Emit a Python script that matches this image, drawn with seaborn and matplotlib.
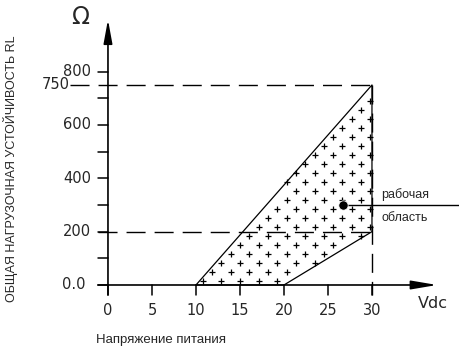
import numpy as np
import pandas as pd
import matplotlib
matplotlib.use("Agg")
import matplotlib.pyplot as plt
import seaborn as sns
from matplotlib.path import Path

# chart values
x_ticks = [0, 5, 10, 15, 20, 25, 30]
y_ticks = [0, 100, 200, 300, 400, 500, 600, 700, 800]
y_labels = {0: "0.0", 200: "200", 400: "400", 600: "600", 800: "800"}
area_v = [10, 30, 30, 20]
area_rl = [0, 750, 200, 0]
rl_max = 750
rl_min = 200
v_max = 30
point_v = 26.7
point_rl = 300

sns.set_style("white")
plt.rcParams["font.family"] = ["DejaVu Sans"]

fig = plt.figure(figsize=(4.59, 3.49), dpi=100)
ax = fig.add_axes([0, 0, 1, 1])
ax.set_xlim(-12.27, 39.89)
ax.set_ylim(-240, 1068.6)
ax.axis("off")

dash = (0, (13.7, 6.5))
k = "black"

# axes with arrows
ax.annotate("", xy=(37.4, 0), xytext=(-1.14, 0),
            arrowprops=dict(arrowstyle="-|>,head_length=1.3,head_width=0.22",
                            color=k, lw=1.2, mutation_scale=12, shrinkA=0, shrinkB=0))
ax.annotate("", xy=(0, 995), xytext=(0, -37.5),
            arrowprops=dict(arrowstyle="-|>,head_length=1.2,head_width=0.22",
                            color=k, lw=1.2, mutation_scale=12, shrinkA=0, shrinkB=0))

# ticks
for xt in x_ticks:
    ax.plot([xt, xt], [0, -37.5], color=k, lw=1.1)
    ax.text(xt, -95, str(xt), ha="center", va="center", fontsize=10.5)
for yt in y_ticks:
    ax.plot([-1.14, 0], [yt, yt], color=k, lw=1.1)
    if yt in y_labels:
        ax.text(-1.9 if yt else -2.5, yt, y_labels[yt], ha="right", va="center", fontsize=10.5)
ax.text(-4.4, rl_max, str(rl_max), ha="right", va="center", fontsize=10.5)

# dashed limit lines
ax.plot([-4.3, v_max], [rl_max, rl_max], color=k, lw=1, ls=dash)
ax.plot([-1.14, v_max], [rl_min, rl_min], color=k, lw=1, ls=dash)
ax.plot([v_max, v_max], [rl_max, -37.5], color=k, lw=1, ls=dash)

# working area outline
outline = pd.DataFrame({"v": area_v + [area_v[0]], "rl": area_rl + [area_rl[0]]})
sns.lineplot(data=outline, x="v", y="rl", sort=False, color=k, lw=0.9, ax=ax, estimator=None)

# plus texture inside the area (a fill pattern, like a hatch)
area_path = Path(list(zip(area_v, area_rl)))
rows = np.arange(13.1, 760, 33.75)
gx, gy = [], []
for i, r in enumerate(rows):
    start = 29.83 - (1.06 if i % 2 else 0)
    for c in np.arange(start, 9, -2.12):
        gx.append(c)
        gy.append(r)
grid = np.column_stack([gx, gy])
inside = area_path.contains_points(grid)
ax.plot(grid[inside, 0], grid[inside, 1], ls="none", marker="+", ms=4.2, mew=0.9, color=k)

# operating point
ax.plot([point_v, 39.9], [point_rl, point_rl], color=k, lw=1)
sns.scatterplot(x=[point_v], y=[point_rl], color=k, s=45, ax=ax, zorder=5)
ax.text(31.1, 341, "рабочая", ha="left", va="center", fontsize=9, family=["Liberation Sans"])
ax.text(31.1, 251, "область", ha="left", va="center", fontsize=9, family=["Liberation Sans"])

# labels
ax.text(36.9, -71, "Vdc", ha="center", va="center", fontsize=11.5)
ax.text(-3.2, 1005, "\u03a9", ha="center", va="center", fontsize=17)
ax.text(6.0, -206, "Напряжение питания", ha="center", va="center", fontsize=9.5,
        family=["Liberation Sans"])
ax.text(-11.1, 435, "ОБЩАЯ НАГРУЗОЧНАЯ УСТОЙЧИВОСТЬ RL", rotation=90, ha="center",
        va="center", fontsize=9, family=["Liberation Sans"])

fig.savefig("out.png", dpi=100)
